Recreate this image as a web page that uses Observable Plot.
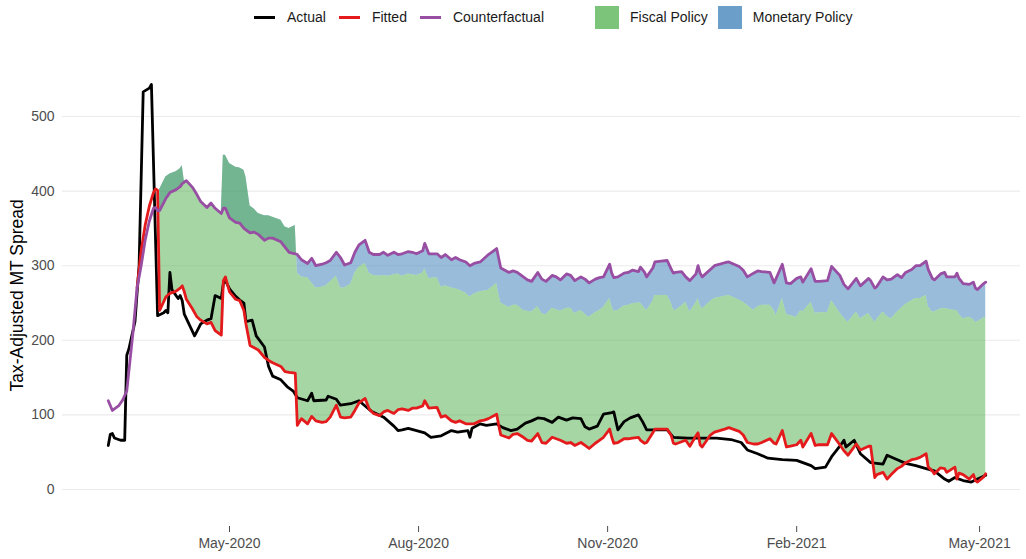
<!DOCTYPE html>
<html>
<head>
<meta charset="utf-8">
<script src="https://cdn.jsdelivr.net/npm/d3@7"></script>
<script src="https://cdn.jsdelivr.net/npm/@observablehq/plot@0.6"></script>
<style>
  html, body { margin: 0; padding: 0; background: #ffffff; }
  body { font-family: "Liberation Sans", Arial, sans-serif; width: 1026px; height: 559px; overflow: hidden; }
  #legend { height: 34px; display: flex; align-items: center; padding-left: 254px; font-size: 14px; color: #1a1a1a; box-sizing: border-box; }
  .lkey { width: 21px; height: 3px; margin-right: 12px; }
  .ltxt { margin-right: 13px; white-space: nowrap; }
  .fkey { width: 24px; height: 23px; margin-right: 11px; }
  .ftxt { margin-right: 10px; white-space: nowrap; }
  .gap { width: 38px; }
  #chart svg { display: block; }
</style>
</head>
<body>
<div id="legend"></div>
<div id="chart"></div>
<script>
// ---------------- data ----------------
const dates = [
"2020-03-03","2020-03-05","2020-03-08","2020-03-10","2020-03-12","2020-03-15","2020-03-17","2020-03-19","2020-03-21","2020-03-23",
"2020-03-25","2020-03-26","2020-03-27","2020-03-28","2020-03-31","2020-04-02","2020-04-05","2020-04-07","2020-04-08","2020-04-09",
"2020-04-10","2020-04-13","2020-04-15","2020-04-17","2020-04-20","2020-04-22","2020-04-24","2020-04-27","2020-04-28","2020-04-29",
"2020-05-01","2020-05-04","2020-05-06","2020-05-08","2020-05-09","2020-05-11","2020-05-13","2020-05-15","2020-05-18","2020-05-20",
"2020-05-22","2020-05-26","2020-05-28","2020-05-30","2020-06-02","2020-06-03","2020-06-05","2020-06-08","2020-06-10","2020-06-12",
"2020-06-15","2020-06-17","2020-06-19","2020-06-22","2020-06-24","2020-06-26","2020-06-29","2020-07-01","2020-07-03","2020-07-06",
"2020-07-08","2020-07-10","2020-07-13","2020-07-15","2020-07-17","2020-07-20","2020-07-22","2020-07-24","2020-07-27","2020-07-29",
"2020-07-31","2020-08-03","2020-08-04","2020-08-06","2020-08-10","2020-08-12","2020-08-14","2020-08-17","2020-08-19","2020-08-21",
"2020-08-24","2020-08-26","2020-08-28","2020-08-31","2020-09-02","2020-09-04","2020-09-08","2020-09-09","2020-09-10","2020-09-14",
"2020-09-16","2020-09-18","2020-09-21","2020-09-23","2020-09-25","2020-09-28","2020-09-30","2020-10-02","2020-10-05","2020-10-07",
"2020-10-09","2020-10-12","2020-10-14","2020-10-16","2020-10-19","2020-10-21","2020-10-23","2020-10-26","2020-10-28","2020-10-30",
"2020-11-02","2020-11-03","2020-11-04","2020-11-06","2020-11-09","2020-11-11","2020-11-13","2020-11-16","2020-11-17","2020-11-19",
"2020-11-20","2020-11-23","2020-11-24","2020-11-27","2020-11-30","2020-12-02","2020-12-03","2020-12-04","2020-12-07","2020-12-09",
"2020-12-11","2020-12-14","2020-12-15","2020-12-16","2020-12-17","2020-12-21","2020-12-23","2020-12-28","2020-12-30","2021-01-04",
"2021-01-06","2021-01-08","2021-01-11","2021-01-13","2021-01-15","2021-01-19","2021-01-21","2021-01-22","2021-01-25","2021-01-27",
"2021-01-29","2021-02-01","2021-02-03","2021-02-04","2021-02-08","2021-02-10","2021-02-12","2021-02-16","2021-02-18","2021-02-22",
"2021-02-24","2021-02-26","2021-03-02","2021-03-04","2021-03-08","2021-03-09","2021-03-11","2021-03-12","2021-03-15","2021-03-17",
"2021-03-19","2021-03-22","2021-03-24","2021-03-26","2021-03-29","2021-03-31","2021-04-02","2021-04-05","2021-04-06","2021-04-08",
"2021-04-09","2021-04-12","2021-04-14","2021-04-15","2021-04-19","2021-04-20","2021-04-21","2021-04-23","2021-04-26","2021-04-28",
"2021-04-29","2021-04-30","2021-05-03","2021-05-04"
];
const counterfactual = [
119,106,112,120,132,210,270,300,335,360,
377,378,374,374,390,398,402,406,410,412,
414,405,396,386,378,384,377,370,377,377,
364,358,357,350,348,344,345,342,334,337,
337,332,325,318,316,315,308,303,310,300,
302,304,307,318,311,301,304,318,328,334,
318,315,315,318,314,318,315,316,319,318,
316,320,330,316,316,311,315,308,311,308,
305,300,303,305,310,315,323,310,297,291,
293,291,285,281,279,291,282,279,287,285,
281,289,287,280,285,282,277,282,284,285,
302,290,284,285,290,291,294,292,298,291,
285,297,305,306,307,295,290,291,292,285,
280,289,300,290,285,295,300,304,305,299,
294,285,290,293,292,291,277,283,302,277,
276,283,285,278,296,279,279,280,299,287,
275,269,283,273,283,280,270,272,285,281,
282,288,284,291,295,300,300,306,295,283,
281,289,291,285,285,290,283,276,275,278,
270,268,276,278
];
const fitted = [
null,null,null,null,null,null,270,320,355,380,
398,403,401,240,258,263,266,270,273,265,
255,242,232,227,222,224,213,207,280,285,
265,255,253,240,222,193,190,187,177,173,
170,165,158,157,156,86,95,88,98,92,
90,91,97,113,97,96,97,106,116,122,
108,102,99,104,106,102,107,108,106,109,
109,112,119,109,110,97,99,92,90,92,
88,88,88,92,93,95,101,86,73,69,
74,75,70,66,65,75,63,62,70,68,
66,62,63,59,63,59,55,62,66,70,
81,70,62,63,68,68,69,70,66,62,
63,76,81,81,81,72,62,61,64,66,
58,72,76,60,57,73,77,81,83,78,
73,63,61,61,63,68,62,61,79,57,
58,60,66,57,75,59,60,60,75,60,
52,46,61,53,58,58,16,20,23,14,
20,28,31,36,40,41,43,48,30,25,
21,29,28,23,30,14,22,20,14,20,
12,10,17,21
];
// top of the fiscal-policy band (bottom of the monetary-policy band)
const fiscalTop = [
null,null,null,null,null,null,null,null,null,null,
null,null,null,402,419,423,426,430,434,414,
414,405,396,386,378,384,377,370,448,448,
437,432,431,428,419,380,376,370,367,367,
365,361,352,350,354,290,285,284,277,270,
271,273,278,286,270,270,275,290,298,303,
290,287,286,287,286,288,289,286,289,288,
287,290,296,283,284,271,273,270,269,267,
263,258,262,265,266,267,276,262,250,244,
247,247,240,239,238,245,236,234,243,241,
239,243,243,236,240,235,231,237,240,244,
256,246,239,240,246,247,249,250,250,243,
240,252,260,260,260,250,241,240,246,251,
238,250,256,247,242,252,256,259,260,254,
251,247,240,245,247,247,240,233,256,235,
233,231,240,238,251,236,237,237,253,237,
230,224,238,229,236,232,224,228,238,232,
229,238,243,248,253,256,256,260,245,238,
238,242,243,242,240,240,235,229,231,228,
224,225,230,231
];

const actualDates = [
"2020-03-03","2020-03-04","2020-03-05","2020-03-06","2020-03-09","2020-03-11","2020-03-12","2020-03-13","2020-03-16","2020-03-18",
"2020-03-20","2020-03-23","2020-03-24","2020-03-27","2020-03-30","2020-03-31","2020-04-01","2020-04-02","2020-04-03","2020-04-06",
"2020-04-07","2020-04-08","2020-04-09","2020-04-14","2020-04-17","2020-04-20","2020-04-22","2020-04-24","2020-04-27","2020-04-28",
"2020-04-29","2020-05-01","2020-05-04","2020-05-06","2020-05-08","2020-05-09","2020-05-12","2020-05-14","2020-05-18","2020-05-20",
"2020-05-22","2020-05-26","2020-05-29","2020-06-01","2020-06-03","2020-06-08","2020-06-10","2020-06-11","2020-06-17","2020-06-18",
"2020-06-22","2020-06-24","2020-06-29","2020-07-03","2020-07-06","2020-07-09","2020-07-15","2020-07-20","2020-07-22","2020-07-24",
"2020-07-27","2020-07-31","2020-08-04","2020-08-07","2020-08-12","2020-08-17","2020-08-20","2020-08-25","2020-08-26","2020-08-27",
"2020-08-31","2020-09-03","2020-09-08","2020-09-11","2020-09-15","2020-09-18","2020-09-22","2020-09-25","2020-09-28","2020-10-01",
"2020-10-05","2020-10-08","2020-10-12","2020-10-15","2020-10-19","2020-10-21","2020-10-23","2020-10-27","2020-10-30","2020-11-03",
"2020-11-04","2020-11-06","2020-11-09","2020-11-12","2020-11-16","2020-11-18","2020-11-20","2020-11-25","2020-11-30","2020-12-03",
"2020-12-10","2020-12-17","2020-12-24","2020-12-31","2021-01-05","2021-01-08","2021-01-13","2021-01-18","2021-01-25","2021-02-01",
"2021-02-03","2021-02-08","2021-02-10","2021-02-15","2021-02-18","2021-02-22","2021-02-24","2021-02-25","2021-03-01","2021-03-04",
"2021-03-09","2021-03-15","2021-03-17","2021-03-22","2021-03-26","2021-03-31","2021-04-05","2021-04-09","2021-04-14","2021-04-16",
"2021-04-19","2021-04-23","2021-04-27","2021-04-30","2021-05-04"
];
const actual = [
59,74,75,69,66,66,180,188,225,300,
533,538,543,233,237,240,237,291,268,256,
260,253,235,206,222,227,229,260,256,276,
280,269,259,254,250,225,227,206,191,165,
152,147,138,132,123,119,129,119,120,125,
121,113,115,119,112,105,97,85,79,80,
82,79,76,70,72,79,77,79,70,82,
88,86,88,83,79,81,89,92,96,95,
90,97,93,96,95,84,81,85,101,103,
104,80,91,96,100,91,80,80,80,70,
69,69,69,67,63,53,48,42,40,39,
37,32,28,30,44,58,66,57,66,48,
36,34,46,40,35,32,28,25,14,11,
16,12,10,14,19
];

const yTicks = [0, 100, 200, 300, 400, 500];
const xTicks = ["2020-05-01", "2020-08-01", "2020-11-01", "2021-02-01", "2021-05-01"];
const yTitle = "Tax-Adjusted MT Spread";

const lineSeries = [
  {name: "Actual", color: "#000000"},
  {name: "Fitted", color: "#e41a1c"},
  {name: "Counterfactual", color: "#984ea3"}
];
const fillSeries = [
  {name: "Fiscal Policy", color: "#7dc47b"},
  {name: "Monetary Policy", color: "#6b9fca"}
];

// ---------------- build ----------------
const rows = dates.map((d, i) => ({
  date: new Date(d),
  cf: counterfactual[i],
  fitted: fitted[i],
  fT: fiscalTop[i]
}));
const actualRows = actualDates.map((d, i) => ({date: new Date(d), v: actual[i]}));

// legend
const legend = document.getElementById("legend");
lineSeries.forEach(s => {
  const k = document.createElement("span"); k.className = "lkey"; k.style.background = s.color;
  const t = document.createElement("span"); t.className = "ltxt"; t.textContent = s.name;
  legend.append(k, t);
});
const g = document.createElement("span"); g.className = "gap"; legend.append(g);
fillSeries.forEach(s => {
  const k = document.createElement("span"); k.className = "fkey"; k.style.background = s.color;
  const t = document.createElement("span"); t.className = "ftxt"; t.textContent = s.name;
  legend.append(k, t);
});

const chart = Plot.plot({
  width: 1026,
  height: 525,
  marginLeft: 62,
  marginRight: 6,
  marginTop: 29.8,
  marginBottom: 33,
  style: {fontFamily: "'Liberation Sans', Arial, sans-serif", fontSize: "14px", background: "#ffffff"},
  x: {type: "utc", domain: [new Date("2020-02-09T17:30:00Z"), new Date("2021-05-20T22:00:00Z")]},
  y: {domain: [-49.6, 570]},
  marks: [
    Plot.gridY(yTicks, {stroke: "#ebebeb", strokeOpacity: 1, strokeWidth: 1.1}),
    Plot.areaY(rows, {x: "date", y1: "fT", y2: "cf", fill: "rgb(49,121,179)", fillOpacity: 0.5}),
    Plot.areaY(rows, {x: "date", y1: "fitted", y2: "fT", fill: "rgb(77,173,71)", fillOpacity: 0.5}),
    Plot.lineY(actualRows, {x: "date", y: "v", stroke: lineSeries[0].color, strokeWidth: 2.8}),
    Plot.lineY(rows, {x: "date", y: "fitted", stroke: lineSeries[1].color, strokeWidth: 2.8}),
    Plot.lineY(rows, {x: "date", y: "cf", stroke: lineSeries[2].color, strokeWidth: 2.8}),
    Plot.axisY(yTicks, {tickSize: 0, tickPadding: 8, label: null, color: "#4d4d4d", fontSize: 14}),
    Plot.axisX(xTicks.map(d => new Date(d)), {tickSize: 6, tickPadding: 6, tickFormat: "%b-%Y", label: null, color: "#4d4d4d", fontSize: 14}),
    Plot.text([yTitle], {frameAnchor: "left", dx: -45, rotate: -90, textAnchor: "middle", fontSize: 17.5, fill: "#000000"})
  ]
});
document.getElementById("chart").append(chart);
</script>
</body>
</html>
